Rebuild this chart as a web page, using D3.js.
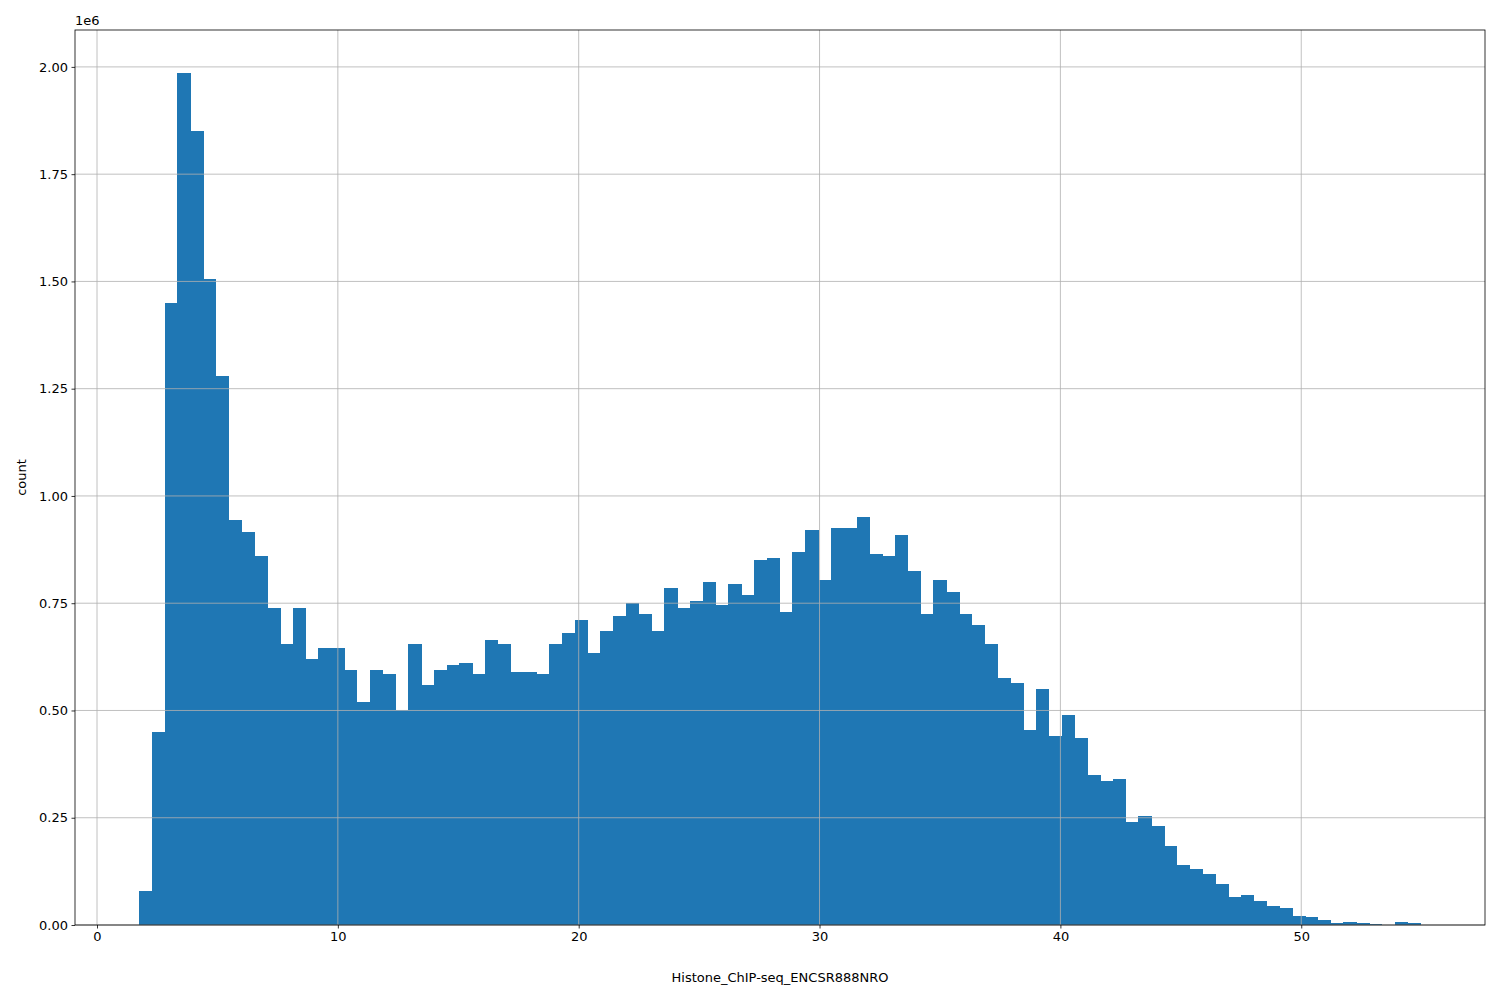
<!DOCTYPE html>
<html>
<head>
<meta charset="utf-8">
<script src="https://cdn.jsdelivr.net/npm/d3@7"></script>
<style>
  body { margin: 0; background: #fff; }
  text { font-family: "DejaVu Sans", sans-serif; }
</style>
</head>
<body>
<script>
// histogram of 100 equal bins
var binStart = 1.744;
var binWidth = 0.532;
var counts = [
  0.08, 0.45, 1.45, 1.985, 1.85, 1.505, 1.28, 0.945, 0.915, 0.86,
  0.74, 0.655, 0.74, 0.62, 0.645, 0.645, 0.595, 0.52, 0.595, 0.585,
  0.50, 0.655, 0.56, 0.595, 0.605, 0.61, 0.585, 0.665, 0.655, 0.59,
  0.59, 0.585, 0.655, 0.68, 0.71, 0.635, 0.685, 0.72, 0.75, 0.725,
  0.685, 0.785, 0.74, 0.755, 0.80, 0.745, 0.795, 0.77, 0.85, 0.855,
  0.73, 0.87, 0.92, 0.805, 0.925, 0.925, 0.95, 0.865, 0.86, 0.91,
  0.825, 0.725, 0.805, 0.775, 0.725, 0.70, 0.655, 0.575, 0.565, 0.455,
  0.55, 0.44, 0.49, 0.435, 0.35, 0.335, 0.34, 0.24, 0.255, 0.23,
  0.185, 0.14, 0.13, 0.12, 0.095, 0.065, 0.07, 0.055, 0.045, 0.04,
  0.022, 0.018, 0.012, 0.004, 0.008, 0.005, 0.002, 0.001, 0.006, 0.004
].map(function(v) { return v * 1e6; });
var xTicks = [0, 10, 20, 30, 40, 50];
var yTicks = [0, 0.25e6, 0.5e6, 0.75e6, 1e6, 1.25e6, 1.5e6, 1.75e6, 2e6];

(function() {
var pl = 75, pr = 1485, pt = 30, pb = 925;
var svg = d3.select("body").append("svg")
    .attr("width", 1500).attr("height", 1000);

var x = d3.scaleLinear().domain([-0.914, 57.63]).range([pl, pr]);
var y = d3.scaleLinear().domain([0, 2.086e6]).range([pb, pt]);

var bins = counts.map(function(c, i) {
  return { x0: binStart + i * binWidth, x1: binStart + (i + 1) * binWidth, n: c };
});

svg.append("g").attr("shape-rendering", "crispEdges")
  .selectAll("rect").data(bins).enter().append("rect")
    .attr("x", function(d) { return x(d.x0); })
    .attr("width", function(d) { return x(d.x1) - x(d.x0) + 0.6; })
    .attr("y", function(d) { return y(d.n); })
    .attr("height", function(d) { return pb - y(d.n); })
    .attr("fill", "#1f77b4");

// grid on top of bars
svg.selectAll("line.gx").data(xTicks).enter().append("line")
    .attr("x1", function(d) { return x(d); }).attr("x2", function(d) { return x(d); })
    .attr("y1", pt).attr("y2", pb)
    .attr("stroke", "#b0b0b0").attr("stroke-width", 0.8);
svg.selectAll("line.gy").data(yTicks).enter().append("line")
    .attr("y1", function(d) { return y(d); }).attr("y2", function(d) { return y(d); })
    .attr("x1", pl).attr("x2", pr)
    .attr("stroke", "#b0b0b0").attr("stroke-width", 0.8);

var xAxis = d3.axisBottom(x).tickValues(xTicks).tickSize(3.5).tickPadding(3.5)
    .tickFormat(d3.format("d"));
var yAxis = d3.axisLeft(y).tickValues(yTicks).tickSize(3.5).tickPadding(3.5)
    .tickFormat(function(d) { return (d / 1e6).toFixed(2); });

var gx = svg.append("g").attr("transform", "translate(0," + pb + ")").call(xAxis);
var gy = svg.append("g").attr("transform", "translate(" + pl + ",0)").call(yAxis);
[gx, gy].forEach(function(g) {
  g.select(".domain").remove();
  g.selectAll("text").attr("font-size", 13).attr("fill", "#000")
    .attr("font-family", "DejaVu Sans, sans-serif");
  g.selectAll("line").attr("stroke", "#000").attr("stroke-width", 0.8);
});

svg.append("rect").attr("x", pl).attr("y", pt)
    .attr("width", pr - pl).attr("height", pb - pt)
    .attr("fill", "none").attr("stroke", "#000").attr("stroke-width", 0.8);

svg.append("text").attr("x", pl).attr("y", pt - 5)
    .attr("font-size", 13).text("1e6");
svg.append("text").attr("x", (pl + pr) / 2).attr("y", 982)
    .attr("text-anchor", "middle").attr("font-size", 13)
    .text("Histone_ChIP-seq_ENCSR888NRO");
svg.append("text").attr("transform", "translate(26," + (pt + pb) / 2 + ") rotate(-90)")
    .attr("text-anchor", "middle").attr("font-size", 13).text("count");
})();
</script>
</body>
</html>
